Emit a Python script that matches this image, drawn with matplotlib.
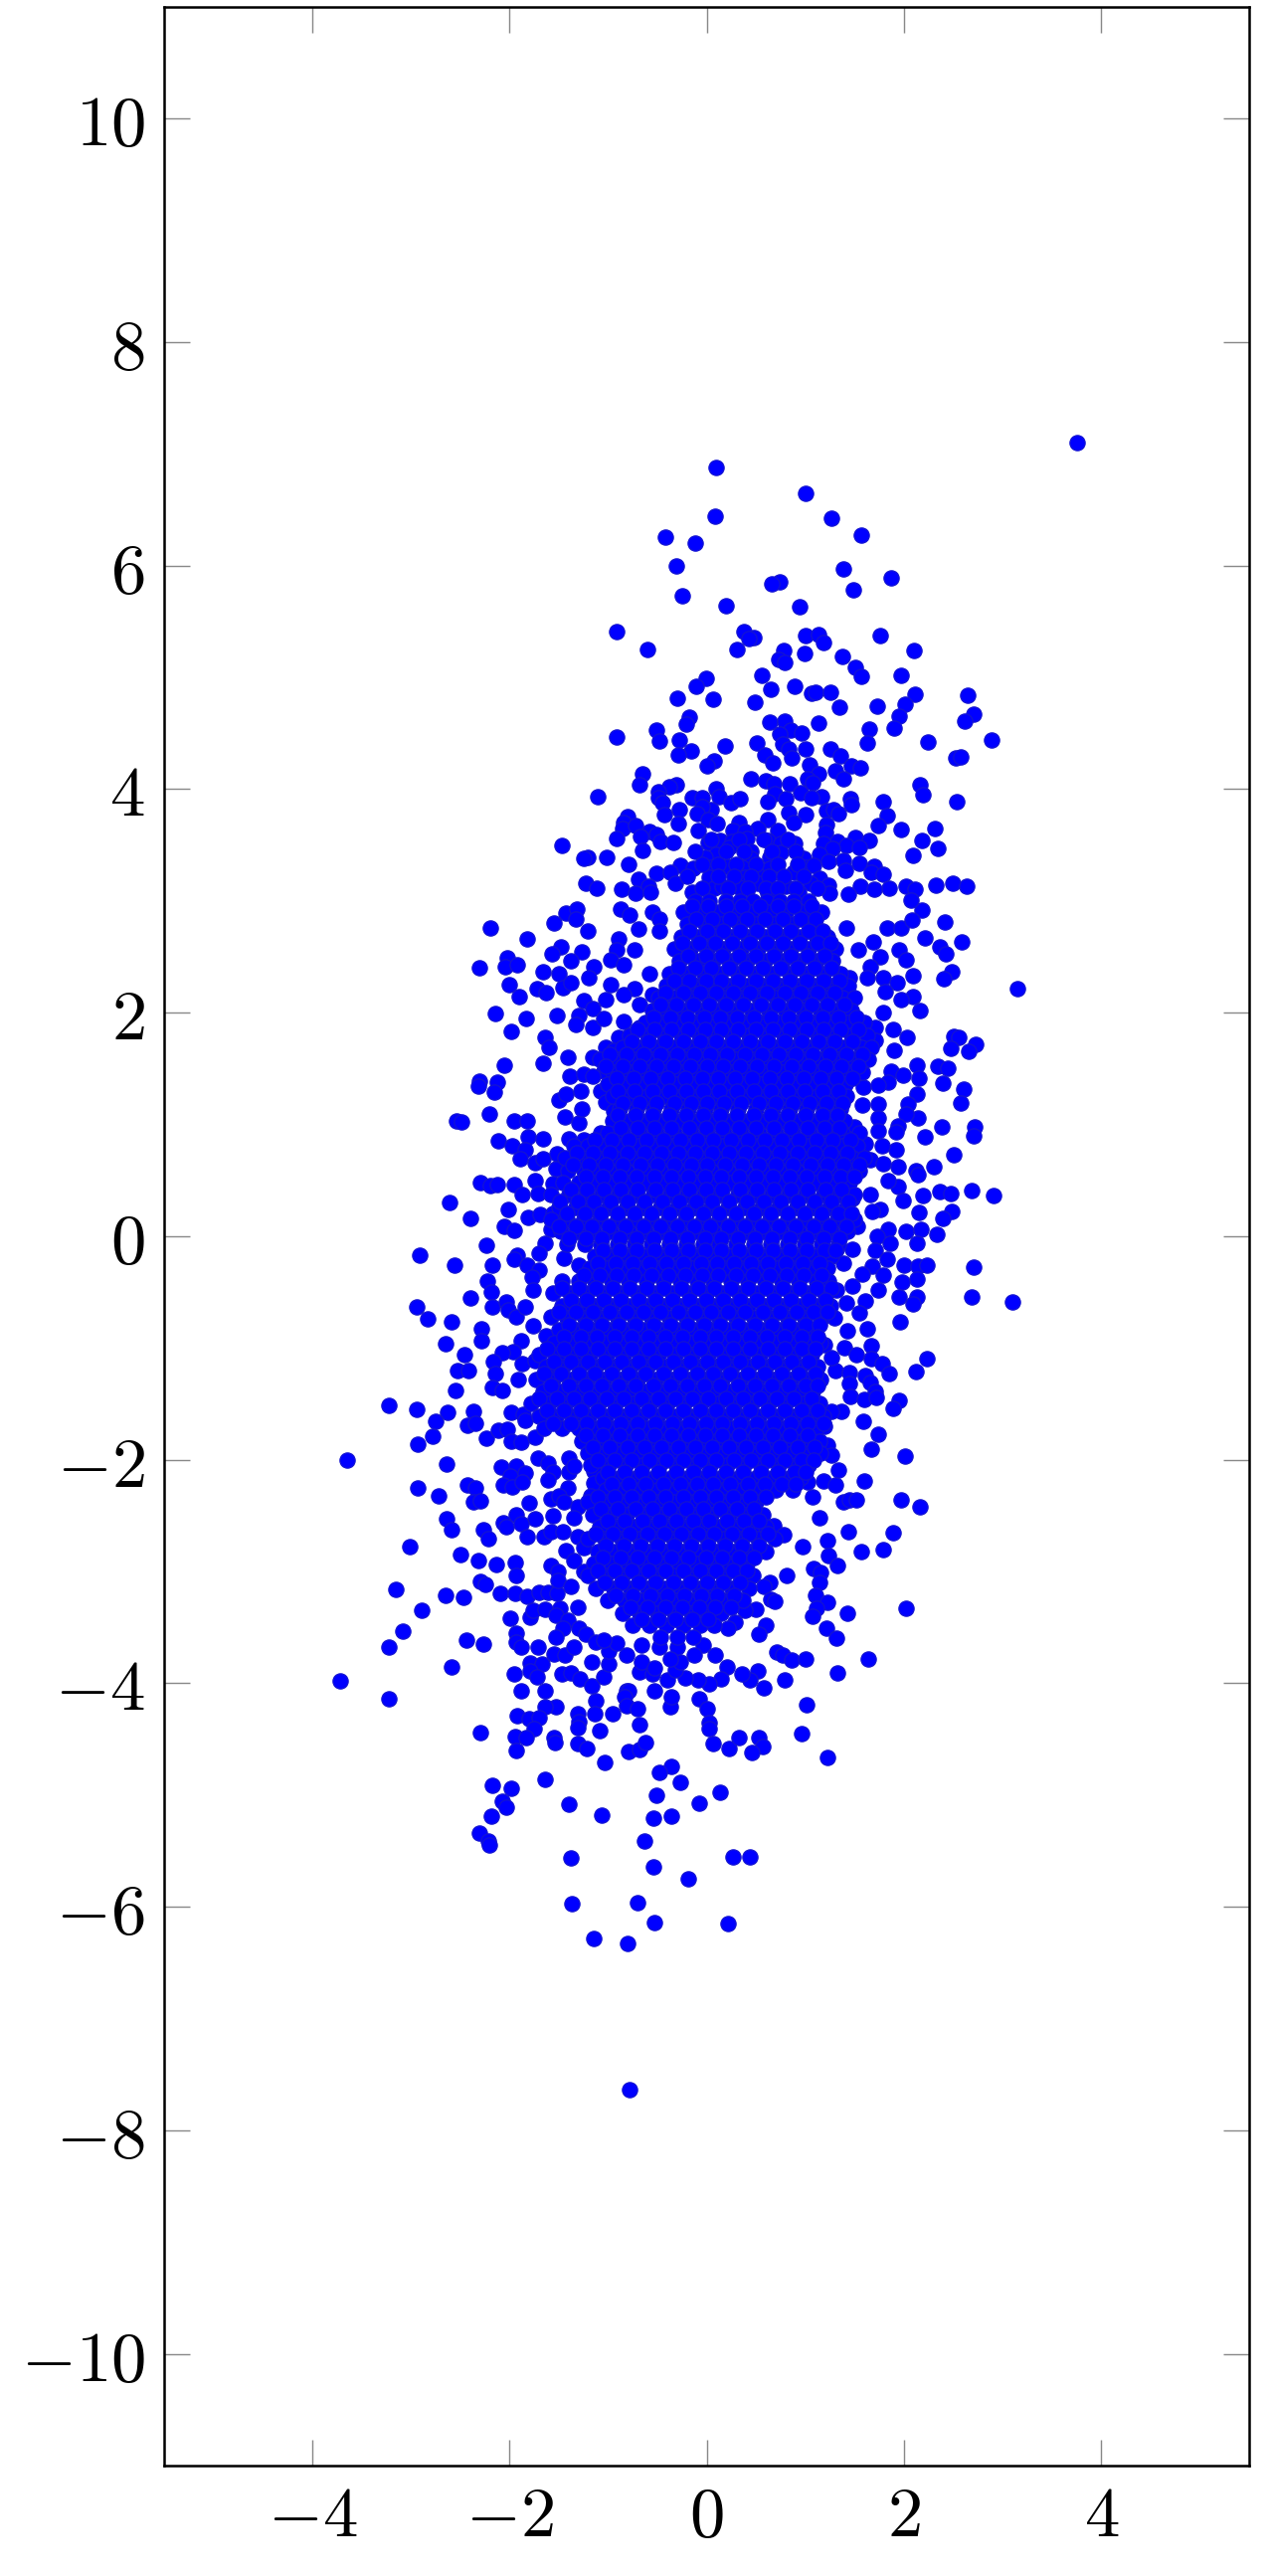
# -*- coding: utf-8 -*-
import matplotlib
matplotlib.use('Agg')
import matplotlib.pyplot as plt

plt.rcParams['mathtext.fontset'] = 'cm'

x_ticks = [-4, -2, 0, 2, 4]
y_ticks = [-10, -8, -6, -4, -2, 0, 2, 4, 6, 8, 10]
x_tick_labels = ['$-4$', '$-2$', '$0$', '$2$', '$4$']
y_tick_labels = ['$-10$', '$-8$', '$-6$', '$-4$', '$-2$', '$0$', '$2$', '$4$', '$6$', '$8$', '$10$']

# points, upper tail
top_pts = [(3.76,7.10),(0.10,6.88),(1.00,6.65),(0.09,6.44),(1.27,6.42),(1.57,6.27),(-0.42,6.25),(-0.12,6.20),(-0.31,6.00),
(1.39,5.97),(1.87,5.89),(0.74,5.85),(0.66,5.84),(1.49,5.78),(-0.25,5.73),(0.20,5.64),(0.94,5.63),(-0.91,5.41),(0.38,5.41),
(0.48,5.36),(0.43,5.35),(1.00,5.37),(1.13,5.38),(1.18,5.31),(1.76,5.37),(-0.60,5.25),(0.31,5.25),(0.78,5.24),(0.99,5.21),
(2.10,5.24),(1.38,5.19),(0.73,5.16),(0.79,5.13),(1.51,5.09),(1.57,5.01),(1.97,5.02),(0.56,5.02),(-0.01,4.99),(-0.11,4.92),
(0.65,4.89),(0.89,4.92),(1.06,4.86),(1.10,4.87),(1.26,4.87),(2.11,4.85),(2.65,4.84),(-0.30,4.81),(0.07,4.80),(0.49,4.78),
(1.35,4.73),(1.73,4.74),(2.01,4.76),(2.71,4.67),(2.62,4.61),(1.95,4.65),(-0.18,4.64),(-0.21,4.58),(0.64,4.60),(0.79,4.61),
(1.13,4.59),(0.85,4.53),(-0.51,4.53),(1.65,4.54),(1.90,4.55),(0.74,4.49),(0.96,4.50),(-0.48,4.43),(-0.91,4.47),(-0.28,4.44),
(2.89,4.44),(2.24,4.42),(1.63,4.41),(0.19,4.39),(0.51,4.41),(0.77,4.40),(1.00,4.36),(1.26,4.36),(0.83,4.36),(-0.16,4.34),
(-0.29,4.31),(0.59,4.31),(0.86,4.28),(1.36,4.30),(2.53,4.28),(2.58,4.29),(0.08,4.25),(0.01,4.21),(0.67,4.23),(1.04,4.22),
(1.47,4.21),(1.56,4.19),(1.31,4.16),(-0.65,4.14),(1.13,4.14),(0.45,4.09),(1.39,4.09),(2.16,4.04),(-0.68,4.04),(-0.31,4.04),
(-0.38,4.02),(0.60,4.07),(0.68,4.05),(0.84,4.05),(1.02,4.09),(1.07,4.06),(-0.49,3.98),(0.10,4.00),(2.19,3.95),(-1.10,3.93),
(2.54,3.89),(1.79,3.89),(0.95,3.97),(1.16,3.93),(1.46,3.91),(0.69,3.96),(-0.15,3.92),(-0.05,3.92),(0.13,3.93),(0.25,3.88),
(0.34,3.91),(-0.49,3.92),(-0.45,3.88),(0.62,3.89),(0.80,3.91),(1.06,3.92),(1.47,3.86),(-0.28,3.82),(0.05,3.82),(-0.05,3.84),
(-0.10,3.78),(-0.43,3.77),(0.83,3.79),(1.00,3.77),(1.21,3.81),(1.29,3.82),(1.34,3.78),(1.83,3.76),(-0.80,3.75),(0.02,3.73),
(-0.84,3.70),(-0.29,3.69),(0.11,3.69),(0.33,3.70),(0.62,3.73),(0.88,3.70),(1.21,3.68),(1.74,3.67),(2.31,3.65),(1.97,3.64),
(-0.85,3.65),(-0.72,3.67),(-0.09,3.63),(0.52,3.65),(0.72,3.63),(0.27,3.63),(0.39,3.62),(-0.58,3.62),(-0.51,3.59),(1.20,3.61),
(-0.67,3.58),(-0.91,3.56),(1.51,3.57),(2.18,3.54),(1.65,3.54),(1.33,3.53),(-0.47,3.53),(-0.34,3.52),(0.02,3.52),(0.14,3.54),
(0.26,3.53),(0.41,3.56),(0.62,3.54),(0.75,3.51),(0.89,3.51),(1.18,3.51),(-1.47,3.50),(1.42,3.50),(1.55,3.48),(2.34,3.47),
(0.23,3.48),(1.28,3.47),(-1.20,3.39),(-1.25,3.38),(-1.01,3.39),(-0.65,3.45),(0.10,3.42),(-0.02,3.39),(0.45,3.44),(2.09,3.41),
(0.75,3.43),(0.98,3.38),(1.14,3.42),(0.64,3.39),(0.45,3.38),(-0.79,3.33),(-0.27,3.32),(0.21,3.31),(0.04,3.30),(-0.14,3.29),
(0.36,3.30),(0.64,3.29),(1.00,3.30),(1.24,3.35),(1.39,3.36),(1.55,3.34),(1.70,3.31),(1.08,3.32),(-0.51,3.25),(-0.37,3.26),
(1.67,3.26),(1.79,3.24),(1.41,3.27),(0.03,3.21),(0.39,3.21),(0.88,3.26),(0.52,3.23),(-0.69,3.19),(1.14,3.20),(-1.23,3.16),
(-0.32,3.16),(-1.11,3.11),(-0.86,3.10),(-0.59,3.13),(2.32,3.14),(2.50,3.16),(2.64,3.13),(2.02,3.13),(2.11,3.10),(1.56,3.13),
(1.85,3.11),(1.70,3.10),(1.24,3.14),(0.80,3.13),(0.08,3.11),(0.16,3.13),(0.33,3.12),(0.52,3.16),(1.05,3.16),(-0.15,3.08),
(-0.72,3.07),(-0.57,3.08),(0.62,3.07),(0.93,3.08),(1.25,3.07),(1.44,3.06)]

# left flank, middle band
left_pts = [(-2.19,2.76),(-1.82,2.66),(-1.43,2.89),(-1.32,2.93),(-1.33,2.84),(-1.55,2.80),(-1.20,2.73),(-2.30,2.40),(-2.02,2.49),
(-2.04,2.41),(-1.92,2.43),(-1.48,2.59),(-1.57,2.53),(-1.27,2.54),(-1.38,2.46),(-1.66,2.37),(-1.50,2.35),(-1.14,2.41),(-1.19,2.31),
(-2.00,2.25),(-1.72,2.21),(-1.63,2.18),(-1.90,2.14),(-1.46,2.22),(-1.38,2.27),(-0.97,2.25),(-1.25,2.11),(-2.14,1.99),(-1.83,1.95),
(-1.52,1.97),(-1.30,1.97),(-1.33,1.89),(-1.98,1.83),(-1.15,2.04),(-1.15,1.87),(-1.64,1.78),(-1.60,1.69),(-1.41,1.60),(-1.66,1.55),
(-2.05,1.53),(-2.30,1.39),(-2.31,1.34),(-2.12,1.38),(-2.15,1.29),(-1.50,1.22),(-1.43,1.27),(-1.28,1.30),(-2.20,1.09),(-2.54,1.03),
(-2.49,1.02),(-1.95,1.03),(-1.82,1.03),(-1.44,1.07),(-1.30,1.01),(-1.27,1.14),(-1.39,1.43),(-1.25,1.45),(-2.11,0.85),(-1.97,0.81),
(-1.81,0.89),(-1.66,0.87),(-1.84,0.77),(-1.89,0.69),(-1.74,0.66),(-1.66,0.69),(-1.52,0.74),(-1.40,0.87),(-1.25,0.86),(-1.07,0.92),
(-1.53,0.60),(-1.41,0.59),(-1.25,0.59),(-2.29,0.48),(-2.19,0.45),(-2.12,0.46),(-1.95,0.46),(-1.74,0.50),(-1.87,0.37),(-1.71,0.38),
(-1.56,0.47),(-2.61,0.30),(-2.01,0.24),(-2.39,0.16),(-1.81,0.17),(-1.69,0.19),(-2.05,0.09),(-1.95,0.05),(-1.56,0.20),(-1.58,0.06),
(-2.23,-0.08),(-1.64,-0.06),(-2.91,-0.17),(-2.56,-0.26),(-1.92,-0.17),(-1.95,-0.21),(-2.17,-0.26),(-1.70,-0.15),(-1.45,-0.20),
(-1.30,-0.26),(-1.82,-0.26),(-2.22,-0.40),(-1.70,-0.30),(-1.77,-0.37),(-2.18,-0.50),(-1.76,-0.48),(-2.39,-0.55),(-2.94,-0.63),
(-2.17,-0.63),(-2.03,-0.59),(-2.01,-0.66),(-1.93,-0.72),(-1.84,-0.63),(-2.83,-0.74),(-2.59,-0.77),(-1.76,-0.80),(-1.58,-0.72),
(-2.28,-0.83),(-2.28,-0.94),(-2.65,-0.96),(-2.46,-1.06),(-1.88,-0.94),(-1.63,-0.89),(-1.96,-1.03),(-2.07,-1.04),(-2.16,-1.12),
(-1.87,-1.14),(-2.53,-1.20),(-2.41,-1.20),(-2.14,-1.23),(-1.91,-1.28),(-2.17,-1.35),(-2.55,-1.38),(-2.07,-1.38),(-1.74,-1.11),
(-1.56,-1.16),(-0.87,2.93),(-0.78,2.87),(-0.55,2.90),(-0.48,2.84),(-0.69,2.75),(-0.48,2.73),(-0.89,2.66),(-0.73,2.56),(-0.91,2.56),
(-0.97,2.47),(-0.84,2.43),(-0.58,2.35),(-0.73,2.21),(-0.84,2.16),(-1.02,2.12),(-0.55,2.16),(-0.84,1.92),(-1.04,1.95),(-0.68,2.07),
(-0.89,1.78),(-1.02,1.69),(-1.15,1.60),(-0.68,1.87),(-0.94,1.66),(-0.89,1.48),(-1.04,1.48),(-0.68,1.42),(-1.15,1.43),(-0.84,1.30),
(-1.07,1.30),(-1.02,1.20),(-0.94,1.12)]

# right flank, middle band
right_pts = [(3.15,2.21),(2.18,2.92),(2.41,2.81),(2.07,3.01),(1.83,2.76),(1.97,2.76),(2.08,2.83),(1.42,2.76),(2.21,2.67),(2.36,2.59),
(2.42,2.53),(2.59,2.63),(1.69,2.63),(1.95,2.56),(1.54,2.56),(2.02,2.47),(1.76,2.50),(2.09,2.33),(2.49,2.37),(2.40,2.30),(1.79,2.31),
(1.93,2.27),(1.66,2.41),(1.63,2.31),(1.45,2.31),(2.09,2.14),(2.16,2.02),(1.97,2.12),(1.81,2.19),(1.79,2.00),(1.71,1.87),(1.89,1.85),
(2.03,1.78),(2.51,1.79),(2.56,1.78),(2.48,1.68),(2.73,1.72),(2.66,1.65),(1.90,1.66),(1.71,1.75),(2.13,1.53),(2.34,1.52),(2.44,1.50),
(1.87,1.48),(2.15,1.41),(2.39,1.37),(2.61,1.32),(1.99,1.44),(1.84,1.38),(1.59,1.33),(1.74,1.35),(2.13,1.27),(2.58,1.19),(2.04,1.18),
(1.74,1.18),(1.58,1.17),(2.14,1.06),(2.02,1.09),(2.38,0.98),(2.72,0.98),(2.71,0.90),(2.21,0.89),(1.94,0.99),(1.74,1.06),(1.50,0.98),
(1.74,0.94),(1.92,0.93),(1.44,0.87),(1.92,0.77),(2.51,0.73),(1.61,0.83),(1.78,0.81),(2.30,0.62),(1.94,0.62),(2.12,0.59),(2.14,0.55),
(1.66,0.68),(1.37,0.71),(1.79,0.65),(2.69,0.41),(2.91,0.36),(2.36,0.40),(2.48,0.38),(2.19,0.36),(1.94,0.44),(1.84,0.50),(1.66,0.37),
(1.48,0.34),(1.99,0.32),(1.76,0.24),(1.68,0.22),(2.15,0.21),(2.49,0.22),(2.39,0.16),(1.84,0.06),(2.02,0.04),(2.17,0.06),(2.33,0.02),
(2.13,-0.06),(1.73,0.00),(1.86,-0.06),(1.53,0.09),(1.71,-0.13),(1.48,-0.12),(1.32,-0.12),(1.83,-0.21),(2.00,-0.26),(2.14,-0.27),
(2.23,-0.26),(2.71,-0.28),(1.68,-0.27),(1.39,-0.24),(1.79,-0.35),(1.58,-0.34),(2.13,-0.38),(1.98,-0.41),(1.74,-0.48),(1.48,-0.45),
(1.32,-0.48),(1.95,-0.54),(2.13,-0.54),(2.69,-0.54),(3.10,-0.59),(2.09,-0.61),(1.61,-0.58),(1.42,-0.60),(1.55,-0.69),(1.96,-0.77),
(1.30,-0.73),(1.63,-0.83),(1.43,-0.85),(1.19,-0.97),(1.67,-0.98),(1.40,-1.00),(1.52,-1.06),(2.23,-1.10),(1.67,-1.10),(1.78,-1.14),
(1.85,-1.23),(2.12,-1.21),(1.31,-1.20),(1.45,-1.22),(1.61,-1.25),(1.66,-1.31),(1.45,-1.32),(1.71,-1.39),(1.27,-1.09)]

# lower tail
low_pts = [(-3.22,-1.51),(-2.94,-1.55),(-2.63,-1.58),(-2.75,-1.66),(-2.36,-1.57),(-2.42,-1.69),(-2.34,-1.67),(-1.98,-1.58),(-1.86,-1.59),
(-2.78,-1.79),(-2.93,-1.86),(-2.23,-1.81),(-2.11,-1.74),(-2.02,-1.73),(-1.98,-1.83),(-1.88,-1.84),(-1.74,-1.80),(-1.84,-1.65),(-3.64,-2.00),
(-2.64,-2.04),(-2.08,-2.07),(-1.93,-2.06),(-1.99,-2.15),(-1.84,-2.12),(-1.71,-1.99),(-1.61,-2.03),(-1.40,-1.99),(-1.56,-2.11),(-1.40,-2.11),
(-1.35,-2.06),(-2.93,-2.25),(-2.72,-2.32),(-2.42,-2.23),(-2.34,-2.25),(-2.36,-2.38),(-2.29,-2.37),(-2.06,-2.23),(-1.97,-2.24),(-1.87,-2.20),
(-1.61,-2.18),(-1.41,-2.25),(-1.80,-2.39),(-1.58,-2.35),(-1.50,-2.32),(-1.45,-2.38),(-1.14,-2.10),(-1.14,-2.21),(-1.17,-2.32),(-1.31,-2.42),
(-1.56,-2.50),(-1.35,-2.52),(-1.93,-2.49),(-1.74,-2.53),(-2.64,-2.53),(-2.59,-2.63),(-2.06,-2.56),(-2.03,-2.60),(-1.88,-2.57),(-2.26,-2.63),
(-2.21,-2.71),(-1.82,-2.69),(-1.65,-2.69),(-1.58,-2.64),(-1.31,-2.69),(-1.46,-2.64),(-3.01,-2.78),(-2.50,-2.85),(-2.31,-2.90),(-2.13,-2.94),
(-1.94,-2.92),(-1.93,-3.04),(-1.58,-2.95),(-1.43,-2.81),(-1.51,-3.00),(-1.25,-2.79),(-1.35,-2.90),(-1.25,-3.00),(-2.29,-3.09),(-2.24,-3.12),
(-3.15,-3.16),(-2.65,-3.21),(-2.47,-3.23),(-2.09,-3.20),(-1.94,-3.20),(-1.82,-3.22),(-1.70,-3.19),(-1.61,-3.19),(-1.52,-3.20),(-1.51,-3.08),
(-1.38,-3.13),(-2.89,-3.35),(-3.08,-3.53),(-3.22,-3.68),(-2.43,-3.61),(-2.26,-3.65),(-2.59,-3.85),(-3.72,-3.98),(-3.22,-4.14),(-1.99,-3.42),
(-1.79,-3.41),(-1.76,-3.35),(-1.64,-3.34),(-1.49,-3.33),(-1.31,-3.32),(-1.53,-3.39),(-1.41,-3.44),(-1.93,-3.55),(-1.46,-3.51),(-1.53,-3.59),
(-1.30,-3.51),(-1.22,-3.56),(-1.93,-3.63),(-1.88,-3.68),(-1.71,-3.68),(-1.55,-3.74),(-1.44,-3.75),(-1.35,-3.68),(-1.79,-3.82),(-1.67,-3.83),
(-1.79,-3.89),(-1.72,-3.94),(-1.95,-3.92),(-1.47,-3.92),(-1.38,-3.91),(-1.29,-3.96),(-1.16,-3.81),(-1.16,-4.02),(-1.04,-3.94),(-0.99,-3.83),
(-1.88,-4.07),(-1.64,-4.07),(-1.53,-4.21),(-1.64,-4.21),(-1.92,-4.29),(-1.80,-4.32),(-1.70,-4.31),(-1.31,-4.27),(-1.30,-4.34),(-1.31,-4.40),
(-1.12,-4.16),(-1.13,-4.27),(-0.95,-4.27),(-0.81,-4.07),(-0.79,-4.07),(-0.83,-4.12),(-0.81,-4.20),(-0.70,-4.23),(-0.68,-4.37),(-1.08,-4.42),
(-1.75,-4.41),(-2.29,-4.44),(-1.94,-4.48),(-1.83,-4.49),(-1.93,-4.60),(-1.55,-4.49),(-1.54,-4.53),(-1.31,-4.54),(-1.21,-4.58),(-0.79,-4.61),
(-0.68,-4.59),(-0.62,-4.53),(-1.03,-4.71),(-0.36,-4.74),(-0.48,-4.80),(-0.27,-4.89),(-0.51,-5.00),(0.14,-4.98),(-0.08,-5.07),(-1.64,-4.86),
(-2.17,-4.91),(-1.98,-4.94),(-2.07,-5.06),(-2.03,-5.11),(-2.18,-5.19),(-1.40,-5.08),(-1.06,-5.18),(-0.54,-5.21),(-0.36,-5.19),(-2.30,-5.34),
(-2.21,-5.41),(-2.20,-5.45),(-0.63,-5.41),(-1.38,-5.56),(-0.54,-5.64),(0.27,-5.55),(0.44,-5.55),(-0.19,-5.75),(-1.37,-5.97),(-0.70,-5.96),
(-0.53,-6.14),(0.22,-6.15),(-1.14,-6.28),(-0.80,-6.33),(-0.78,-7.64),
(1.46,-1.43),(1.60,-1.46),(1.72,-1.44),(1.95,-1.47),(1.89,-1.54),(1.37,-1.57),(1.27,-1.57),(1.59,-1.66),(1.74,-1.77),(1.19,-1.70),(1.67,-1.91),
(2.01,-1.97),(1.22,-1.87),(1.27,-1.96),(1.34,-2.09),(1.18,-2.19),(1.31,-2.23),(1.60,-2.19),(1.02,-2.20),(1.07,-2.33),(1.39,-2.38),(1.45,-2.36),
(1.52,-2.36),(1.97,-2.36),(2.16,-2.42),(1.14,-2.52),(1.44,-2.64),(1.89,-2.65),(1.23,-2.72),(1.57,-2.82),(1.79,-2.80),(1.24,-2.86),(1.33,-2.95),
(0.97,-2.78),(0.68,-2.59),(0.78,-2.67),(1.08,-2.97),(1.15,-3.01),(1.14,-3.10),(0.81,-3.04),(1.10,-3.21),(1.22,-3.28),(1.11,-3.33),(1.07,-3.40),
(1.43,-3.37),(2.02,-3.33),(1.21,-3.51),(1.32,-3.60),(0.60,-3.48),(0.53,-3.56),(0.64,-3.10),(0.58,-3.13),(0.65,-3.25),(0.69,-3.27),(0.50,-3.34),
(0.39,-3.35),(0.29,-3.45),(0.22,-3.51),(0.71,-3.72),(0.77,-3.75),(0.86,-3.79),(1.00,-3.78),(1.64,-3.78),(1.33,-3.91),(0.79,-3.97),(0.52,-3.89),
(0.44,-3.97),(0.36,-3.92),(0.58,-4.04),(0.21,-3.85),(0.15,-3.96),(0.03,-4.01),(0.09,-3.75),(-0.04,-3.66),(-0.13,-3.75),(-0.09,-3.97),(-0.22,-3.95),
(-0.08,-4.14),(0.00,-4.23),(0.03,-4.35),(0.03,-4.41),(0.07,-4.54),(0.23,-4.58),(0.33,-4.49),(0.53,-4.49),(0.57,-4.57),(0.46,-4.62),(0.96,-4.45),
(1.01,-4.19),(1.23,-4.66),(-0.37,-4.21),(-0.36,-4.12),(-0.53,-4.07),(-0.40,-3.97),(-0.68,-3.90),(-0.55,-3.92),(-0.66,-3.81),(-0.53,-3.86),
(-0.32,-3.88),(-0.27,-3.81),(-0.99,-3.71),(-0.81,-3.75),(-0.91,-3.64),(-1.12,-3.63),(-1.04,-3.61),(-0.66,-3.66),(-0.48,-3.68),(-0.30,-3.68),(-0.37,-3.78)]

# the solid middle of the cloud, one list of x per height
core_rows = [
(3.55,[0.05,0.33,0.58,0.82]),
(3.44,[-0.12,0.20,0.38,0.66,0.90]),
(3.33,[-0.05,0.12,0.30,0.50,0.72,0.92]),
(3.22,[-0.20,0.12,0.28,0.45,0.63,0.78,0.98]),
(3.11,[-0.05,0.22,0.42,0.60,0.72,0.90,1.12]),
(3.00,[-0.12,0.03,0.20,0.34,0.47,0.61,0.74,0.88,1.03]),
(2.90,[-0.24,-0.06,0.11,0.28,0.45,0.63,0.80,0.97,1.16]),
(2.79,[-0.20,-0.02,0.15,0.33,0.50,0.68,0.86,1.04]),
(2.68,[-0.26,-0.09,0.08,0.26,0.42,0.60,0.77,0.94,1.11,1.22]),
(2.57,[-0.33,-0.17,0.01,0.17,0.35,0.52,0.69,0.85,1.03,1.20,1.31]),
(2.46,[-0.28,-0.10,0.07,0.25,0.41,0.59,0.77,0.93,1.11,1.28]),
(2.35,[-0.38,-0.20,-0.03,0.14,0.32,0.49,0.66,0.84,1.01,1.18,1.36]),
(2.24,[-0.41,-0.26,-0.10,0.07,0.24,0.41,0.58,0.75,0.93,1.09,1.27,1.44]),
(2.13,[-0.49,-0.33,-0.16,0.02,0.18,0.35,0.53,0.70,0.87,1.03,1.21,1.38,1.50]),
(2.02,[-0.55,-0.40,-0.23,-0.05,0.11,0.28,0.46,0.63,0.80,0.98,1.15,1.32,1.47]),
(1.91,[-0.62,-0.46,-0.29,-0.12,0.06,0.22,0.39,0.57,0.74,0.91,1.08,1.26,1.43,1.60]),
(1.80,[-0.78,-0.60,-0.43,-0.26,-0.08,0.09,0.26,0.43,0.60,0.78,0.95,1.12,1.29,1.47,1.63]),
(1.69,[-0.85,-0.68,-0.50,-0.33,-0.16,0.01,0.18,0.35,0.52,0.70,0.87,1.04,1.22,1.39,1.57,1.67]),
(1.58,[-1.08,-0.90,-0.73,-0.56,-0.39,-0.22,-0.05,0.12,0.30,0.47,0.64,0.81,0.98,1.16,1.33,1.50,1.64]),
(1.47,[-0.95,-0.78,-0.61,-0.44,-0.27,-0.10,0.07,0.25,0.42,0.59,0.76,0.93,1.11,1.28,1.45,1.58]),
(1.36,[-1.00,-0.83,-0.66,-0.48,-0.31,-0.14,0.03,0.20,0.38,0.55,0.72,0.89,1.06,1.24,1.41]),
(1.25,[-0.95,-0.78,-0.60,-0.43,-0.26,-0.09,0.08,0.26,0.43,0.60,0.77,0.94,1.12,1.29,1.42]),
(1.14,[-0.88,-0.71,-0.54,-0.36,-0.19,-0.02,0.15,0.32,0.50,0.67,0.84,1.01,1.18,1.36]),
(1.03,[-0.95,-0.78,-0.61,-0.44,-0.27,-0.10,0.07,0.25,0.42,0.59,0.76,0.93,1.11,1.28,1.40]),
(0.92,[-1.00,-0.85,-0.68,-0.51,-0.33,-0.16,0.01,0.18,0.35,0.53,0.70,0.87,1.04,1.21,1.38,1.55]),
(0.81,[-1.35,-1.20,-1.03,-0.86,-0.69,-0.52,-0.34,-0.17,0.00,0.17,0.34,0.52,0.69,0.86,1.03,1.20,1.38,1.53]),
(0.70,[-1.44,-1.27,-1.10,-0.93,-0.76,-0.58,-0.41,-0.24,-0.07,0.10,0.28,0.45,0.62,0.79,0.96,1.14,1.31,1.48,1.60]),
(0.59,[-1.15,-0.98,-0.81,-0.64,-0.47,-0.29,-0.12,0.05,0.22,0.39,0.57,0.74,0.91,1.08,1.25,1.43,1.55]),
(0.48,[-1.46,-1.30,-1.13,-0.96,-0.78,-0.61,-0.44,-0.27,-0.10,0.08,0.25,0.42,0.59,0.76,0.94,1.11,1.28,1.45]),
(0.37,[-1.58,-1.40,-1.23,-1.06,-0.89,-0.72,-0.54,-0.37,-0.20,-0.03,0.14,0.32,0.49,0.66,0.83,1.00,1.18,1.35,1.50]),
(0.26,[-1.50,-1.33,-1.16,-0.99,-0.81,-0.64,-0.47,-0.30,-0.13,0.05,0.22,0.39,0.56,0.73,0.91,1.08,1.25,1.42]),
(0.15,[-1.58,-1.42,-1.25,-1.08,-0.90,-0.73,-0.56,-0.39,-0.22,-0.04,0.13,0.30,0.47,0.64,0.82,0.99,1.16,1.33,1.50]),
(0.04,[-1.48,-1.31,-1.14,-0.97,-0.79,-0.62,-0.45,-0.28,-0.11,0.07,0.24,0.41,0.58,0.75,0.93,1.10,1.27,1.43]),
(-0.07,[-1.42,-1.24,-1.07,-0.90,-0.73,-0.56,-0.38,-0.21,-0.04,0.13,0.30,0.48,0.65,0.82,0.99,1.16,1.34]),
(-0.18,[-1.13,-0.96,-0.79,-0.62,-0.45,-0.27,-0.10,0.07,0.24,0.41,0.59,0.76,0.93,1.10,1.27]),
(-0.29,[-1.18,-1.01,-0.84,-0.67,-0.50,-0.32,-0.15,0.02,0.19,0.36,0.54,0.71,0.88,1.05,1.22]),
(-0.40,[-1.47,-1.30,-1.13,-0.96,-0.79,-0.61,-0.44,-0.27,-0.10,0.07,0.25,0.42,0.59,0.76,0.93,1.11,1.24]),
(-0.51,[-1.56,-1.39,-1.21,-1.04,-0.87,-0.70,-0.53,-0.35,-0.18,-0.01,0.16,0.33,0.51,0.68,0.85,1.02,1.19]),
(-0.62,[-1.47,-1.30,-1.13,-0.96,-0.78,-0.61,-0.44,-0.27,-0.10,0.08,0.25,0.42,0.59,0.76,0.94,1.11,1.26]),
(-0.73,[-1.42,-1.24,-1.07,-0.90,-0.73,-0.56,-0.38,-0.21,-0.04,0.13,0.30,0.48,0.65,0.82,0.99,1.16]),
(-0.84,[-1.50,-1.33,-1.16,-0.98,-0.81,-0.64,-0.47,-0.30,-0.12,0.05,0.22,0.39,0.56,0.74,0.91,1.08]),
(-0.95,[-1.55,-1.38,-1.21,-1.03,-0.86,-0.69,-0.52,-0.35,-0.17,0.00,0.17,0.34,0.51,0.69,0.86,1.03,1.15]),
(-1.06,[-1.70,-1.52,-1.35,-1.18,-1.01,-0.84,-0.66,-0.49,-0.32,-0.15,0.02,0.20,0.37,0.54,0.71,0.88,1.06]),
(-1.17,[-1.63,-1.46,-1.29,-1.12,-0.95,-0.77,-0.60,-0.43,-0.26,-0.09,0.09,0.26,0.43,0.60,0.77,0.95,1.12]),
(-1.28,[-1.73,-1.56,-1.38,-1.21,-1.04,-0.87,-0.70,-0.52,-0.35,-0.18,-0.01,0.16,0.34,0.51,0.68,0.85,1.02,1.15]),
(-1.39,[-1.66,-1.49,-1.32,-1.15,-0.97,-0.80,-0.63,-0.46,-0.29,-0.11,0.06,0.23,0.40,0.57,0.75,0.92,1.07]),
(-1.50,[-1.78,-1.60,-1.43,-1.26,-1.09,-0.92,-0.74,-0.57,-0.40,-0.23,-0.06,0.12,0.29,0.46,0.63,0.80,0.98,1.14]),
(-1.61,[-1.70,-1.53,-1.36,-1.19,-1.02,-0.84,-0.67,-0.50,-0.33,-0.16,0.02,0.19,0.36,0.53,0.70,0.88,1.05,1.18]),
(-1.72,[-1.65,-1.47,-1.30,-1.13,-0.96,-0.79,-0.61,-0.44,-0.27,-0.10,0.07,0.25,0.42,0.59,0.76,0.93,1.11]),
(-1.83,[-1.27,-1.10,-0.93,-0.76,-0.58,-0.41,-0.24,-0.07,0.10,0.28,0.45,0.62,0.79,0.96,1.14]),
(-1.94,[-1.20,-1.03,-0.86,-0.69,-0.52,-0.34,-0.17,0.00,0.17,0.34,0.52,0.69,0.86,1.03,1.15]),
(-2.05,[-1.17,-0.99,-0.82,-0.65,-0.48,-0.31,-0.13,0.04,0.21,0.38,0.55,0.73,0.90,1.03]),
(-2.16,[-1.05,-0.88,-0.71,-0.53,-0.36,-0.19,-0.02,0.15,0.33,0.50,0.67,0.84,0.95]),
(-2.27,[-1.02,-0.85,-0.68,-0.50,-0.33,-0.16,0.01,0.18,0.36,0.53,0.70,0.87]),
(-2.38,[-1.20,-1.03,-0.86,-0.69,-0.51,-0.34,-0.17,0.00,0.17,0.35,0.50]),
(-2.49,[-1.15,-0.98,-0.81,-0.63,-0.46,-0.29,-0.12,0.05,0.23,0.40,0.57]),
(-2.60,[-1.08,-0.91,-0.74,-0.56,-0.39,-0.22,-0.05,0.12,0.30,0.47,0.60]),
(-2.71,[-1.20,-1.03,-0.86,-0.68,-0.51,-0.34,-0.17,0.00,0.18,0.35,0.52,0.69]),
(-2.82,[-1.10,-0.92,-0.75,-0.58,-0.41,-0.24,-0.06,0.11,0.28,0.45,0.60]),
(-2.93,[-1.14,-0.96,-0.79,-0.62,-0.45,-0.28,-0.10,0.07,0.24,0.41]),
(-3.04,[-1.20,-1.02,-0.85,-0.68,-0.51,-0.34,-0.16,0.01,0.18,0.35,0.47]),
(-3.15,[-1.12,-0.94,-0.77,-0.60,-0.43,-0.26,-0.08,0.09,0.26,0.43]),
(-3.26,[-1.00,-0.83,-0.66,-0.48,-0.31,-0.14,0.03,0.20,0.37]),
(-3.37,[-0.85,-0.68,-0.50,-0.33,-0.16,0.01,0.15]),
(-3.48,[-0.75,-0.58,-0.41,-0.24,-0.07,0.08]),
(-3.59,[-0.47,-0.30,-0.14]),
]

# more of the middle, filling between the rows above
core_fill = [
(2.95,[-0.15,0.02,0.20,0.36,0.54,0.72,0.88,1.06]),
(2.84,[-0.11,0.06,0.24,0.41,0.59,0.77,0.95,1.10]),
(2.73,[-0.18,0.00,0.17,0.34,0.51,0.69,0.85,1.03,1.17]),
(2.62,[-0.25,-0.08,0.09,0.26,0.44,0.61,0.77,0.94,1.12,1.26]),
(2.51,[-0.19,-0.01,0.16,0.33,0.50,0.68,0.85,1.02,1.19]),
(2.40,[-0.29,-0.12,0.05,0.23,0.40,0.57,0.75,0.92,1.09,1.27]),
(2.29,[-0.33,-0.18,-0.01,0.15,0.32,0.50,0.67,0.84,1.01,1.18,1.35]),
(2.18,[-0.42,-0.24,-0.07,0.10,0.27,0.44,0.61,0.79,0.95,1.12,1.30]),
(2.07,[-0.47,-0.31,-0.14,0.03,0.20,0.37,0.55,0.72,0.89,1.06,1.23,1.40]),
(1.96,[-0.54,-0.37,-0.20,-0.03,0.14,0.31,0.48,0.65,0.83,1.00,1.17,1.34,1.52]),
(1.85,[-0.70,-0.53,-0.36,-0.19,-0.02,0.15,0.32,0.50,0.67,0.84,1.01,1.18,1.36,1.54]),
(1.74,[-0.76,-0.59,-0.42,-0.24,-0.07,0.10,0.27,0.44,0.62,0.79,0.96,1.13,1.30,1.48]),
(1.63,[-0.98,-0.81,-0.64,-0.47,-0.30,-0.13,0.04,0.21,0.39,0.56,0.73,0.90,1.07,1.25,1.42,1.58]),
(1.52,[-1.02,-0.85,-0.68,-0.51,-0.34,-0.17,0.00,0.17,0.34,0.51,0.68,0.86,1.03,1.20,1.37,1.54]),
(1.41,[-0.91,-0.74,-0.57,-0.40,-0.22,-0.05,0.12,0.29,0.46,0.64,0.81,0.98,1.15,1.32,1.48]),
(1.30,[-0.90,-0.73,-0.55,-0.38,-0.21,-0.04,0.13,0.31,0.48,0.65,0.82,0.99,1.17,1.34]),
(1.19,[-0.85,-0.68,-0.51,-0.33,-0.16,0.01,0.18,0.35,0.53,0.70,0.87,1.04,1.21,1.38]),
(1.08,[-0.90,-0.72,-0.55,-0.38,-0.21,-0.04,0.14,0.31,0.48,0.65,0.82,1.00,1.17,1.33]),
(0.97,[-0.87,-0.70,-0.53,-0.36,-0.18,-0.01,0.16,0.33,0.50,0.68,0.85,1.02,1.19,1.35]),
(0.86,[-1.13,-0.96,-0.79,-0.61,-0.44,-0.27,-0.10,0.07,0.25,0.42,0.59,0.76,0.93,1.11,1.28,1.46]),
(0.75,[-1.32,-1.15,-0.98,-0.80,-0.63,-0.46,-0.29,-0.12,0.06,0.23,0.40,0.57,0.74,0.92,1.09,1.26,1.43]),
(0.64,[-1.36,-1.19,-1.02,-0.85,-0.67,-0.50,-0.33,-0.16,0.01,0.19,0.36,0.53,0.70,0.87,1.05,1.22,1.39,1.55]),
(0.53,[-1.22,-1.05,-0.88,-0.71,-0.53,-0.36,-0.19,-0.02,0.15,0.33,0.50,0.67,0.84,1.01,1.19,1.36,1.50]),
(0.42,[-1.38,-1.21,-1.04,-0.87,-0.70,-0.52,-0.35,-0.18,-0.01,0.16,0.34,0.51,0.68,0.85,1.02,1.20,1.37]),
(0.31,[-1.49,-1.31,-1.14,-0.97,-0.80,-0.63,-0.45,-0.28,-0.11,0.06,0.23,0.41,0.58,0.75,0.92,1.09,1.27,1.44]),
(0.20,[-1.42,-1.24,-1.07,-0.90,-0.73,-0.56,-0.38,-0.21,-0.04,0.13,0.30,0.48,0.65,0.82,0.99,1.16,1.34,1.47]),
(0.09,[-1.50,-1.33,-1.16,-0.99,-0.82,-0.64,-0.47,-0.30,-0.13,0.04,0.22,0.39,0.56,0.73,0.90,1.08,1.25,1.42]),
(-0.02,[-1.40,-1.23,-1.06,-0.88,-0.71,-0.54,-0.37,-0.20,-0.02,0.15,0.32,0.49,0.66,0.84,1.01,1.18,1.35]),
(-0.13,[-1.05,-0.88,-0.71,-0.53,-0.36,-0.19,-0.02,0.15,0.33,0.50,0.67,0.84,1.01,1.19,1.31]),
(-0.24,[-1.10,-0.92,-0.75,-0.58,-0.41,-0.24,-0.06,0.11,0.28,0.45,0.62,0.80,0.97,1.14]),
(-0.35,[-1.25,-1.08,-0.91,-0.74,-0.56,-0.39,-0.22,-0.05,0.12,0.30,0.47,0.64,0.81,0.98,1.16]),
(-0.46,[-1.47,-1.30,-1.12,-0.95,-0.78,-0.61,-0.44,-0.26,-0.09,0.08,0.25,0.42,0.60,0.77,0.94,1.11,1.27]),
(-0.57,[-1.38,-1.21,-1.04,-0.87,-0.69,-0.52,-0.35,-0.18,-0.01,0.17,0.34,0.51,0.68,0.85,1.03,1.20]),
(-0.68,[-1.50,-1.33,-1.15,-0.98,-0.81,-0.64,-0.47,-0.29,-0.12,0.05,0.22,0.39,0.57,0.74,0.91,1.08,1.22]),
(-0.79,[-1.40,-1.23,-1.06,-0.89,-0.72,-0.54,-0.37,-0.20,-0.03,0.14,0.32,0.49,0.66,0.83,1.00,1.14]),
(-0.90,[-1.45,-1.28,-1.11,-0.93,-0.76,-0.59,-0.42,-0.25,-0.07,0.10,0.27,0.44,0.61,0.79,0.96,1.12]),
(-1.01,[-1.62,-1.45,-1.28,-1.10,-0.93,-0.76,-0.59,-0.42,-0.24,-0.07,0.10,0.27,0.44,0.62,0.79,0.96,1.10]),
(-1.12,[-1.55,-1.38,-1.20,-1.03,-0.86,-0.69,-0.52,-0.34,-0.17,0.00,0.17,0.34,0.52,0.69,0.86,1.03]),
(-1.23,[-1.65,-1.48,-1.30,-1.13,-0.96,-0.79,-0.62,-0.44,-0.27,-0.10,0.07,0.24,0.42,0.59,0.76,0.93,1.10]),
(-1.34,[-1.58,-1.40,-1.23,-1.06,-0.89,-0.72,-0.54,-0.37,-0.20,-0.03,0.14,0.32,0.49,0.66,0.83,1.00,1.12]),
(-1.45,[-1.70,-1.52,-1.35,-1.18,-1.01,-0.84,-0.66,-0.49,-0.32,-0.15,0.02,0.20,0.37,0.54,0.71,0.88,1.06]),
(-1.56,[-1.62,-1.45,-1.28,-1.10,-0.93,-0.76,-0.59,-0.42,-0.24,-0.07,0.10,0.27,0.44,0.62,0.79,0.96,1.12]),
(-1.67,[-1.56,-1.38,-1.21,-1.04,-0.87,-0.70,-0.52,-0.35,-0.18,-0.01,0.16,0.34,0.51,0.68,0.85,1.02,1.18]),
(-1.78,[-1.22,-1.05,-0.88,-0.70,-0.53,-0.36,-0.19,-0.02,0.16,0.33,0.50,0.67,0.84,1.02]),
(-1.89,[-1.15,-0.98,-0.80,-0.63,-0.46,-0.29,-0.12,0.06,0.23,0.40,0.57,0.74,0.92,1.09]),
(-2.00,[-1.10,-0.93,-0.76,-0.58,-0.41,-0.24,-0.07,0.10,0.28,0.45,0.62,0.79,0.96,1.08]),
(-2.11,[-1.00,-0.83,-0.66,-0.49,-0.31,-0.14,0.03,0.20,0.37,0.55,0.72,0.89,1.00]),
(-2.22,[-0.96,-0.79,-0.62,-0.44,-0.27,-0.10,0.07,0.24,0.42,0.59,0.76,0.90]),
(-2.33,[-1.10,-0.93,-0.76,-0.59,-0.42,-0.24,-0.07,0.10,0.27,0.44,0.60]),
(-2.44,[-1.07,-0.90,-0.72,-0.55,-0.38,-0.21,-0.04,0.14,0.31,0.48]),
(-2.55,[-1.00,-0.83,-0.65,-0.48,-0.31,-0.14,0.03,0.21,0.38,0.53]),
(-2.66,[-1.12,-0.95,-0.78,-0.60,-0.43,-0.26,-0.09,0.08,0.26,0.43,0.62]),
(-2.77,[-1.02,-0.84,-0.67,-0.50,-0.33,-0.16,0.02,0.19,0.36,0.53]),
(-2.88,[-1.05,-0.87,-0.70,-0.53,-0.36,-0.19,-0.01,0.16,0.33,0.48]),
(-2.99,[-1.10,-0.93,-0.76,-0.59,-0.42,-0.24,-0.07,0.10,0.27,0.41]),
(-3.10,[-1.03,-0.86,-0.69,-0.52,-0.34,-0.17,0.00,0.17,0.34]),
(-3.21,[-0.92,-0.75,-0.57,-0.40,-0.23,-0.06,0.11,0.28]),
(-3.32,[-0.77,-0.60,-0.42,-0.25,-0.08,0.09,0.25]),
(-3.43,[-0.66,-0.49,-0.32,-0.15,0.02]),
]

xs = [p[0] for p in top_pts + left_pts + right_pts + low_pts]
ys = [p[1] for p in top_pts + left_pts + right_pts + low_pts]
for y_row, x_row in core_rows + core_fill:
    xs += x_row
    ys += [y_row] * len(x_row)

fig = plt.figure(figsize=(12.8, 25.9), dpi=100)
ax = fig.add_axes([165/1280, 1 - 2479/2590, (1256-165)/1280, (2479-6.7)/2590])

ax.plot(xs, ys, 'o', ms=11.0, mfc='#0000ff', mec='#1414d2', mew=0.9, ls='none')

ax.set_xlim(-5.5, 5.5)
ax.set_ylim(-11, 11)
ax.set_xticks(x_ticks)
ax.set_xticklabels(x_tick_labels)
ax.set_yticks(y_ticks)
ax.set_yticklabels(y_tick_labels)
ax.tick_params(axis='both', which='major', direction='in', top=True, right=True,
               length=19, width=1.0, color='#888888', labelsize=51)
ax.tick_params(axis='x', pad=12)
ax.tick_params(axis='y', pad=14)
for s in ax.spines.values():
    s.set_linewidth(1.8)
    s.set_zorder(5)

fig.savefig('out.png', dpi=100)
